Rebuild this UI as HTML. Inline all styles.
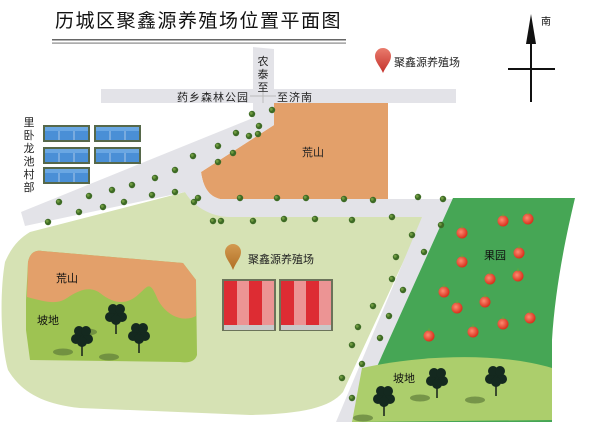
<!DOCTYPE html>
<html><head><meta charset="utf-8"><style>
html,body{margin:0;padding:0;background:#fff;}
svg{display:block;font-family:"Liberation Sans","Noto Sans CJK SC",sans-serif;}
</style></head><body>
<svg width="600" height="422" viewBox="0 0 600 422" xmlns="http://www.w3.org/2000/svg">
<defs>
<radialGradient id="ap" cx="0.4" cy="0.4" r="0.6"><stop offset="0" stop-color="#ff8a70"/><stop offset="1" stop-color="#d8301c"/></radialGradient>
<linearGradient id="pin1" x1="0" y1="0" x2="0" y2="1"><stop offset="0" stop-color="#e97c6d"/><stop offset="1" stop-color="#c4302a"/></linearGradient>
<linearGradient id="pin2" x1="0" y1="0" x2="0" y2="1"><stop offset="0" stop-color="#d39a50"/><stop offset="1" stop-color="#b06e25"/></linearGradient>
<g id="dot"><circle r="3.2" fill="#3e6b25"/><circle r="1.5" cx="-0.8" cy="-0.8" fill="#6f9a40"/></g>
<g id="apple"><circle r="5.5" fill="url(#ap)"/><rect x="-0.5" y="-7.5" width="1" height="3" fill="#6a3"/></g>
<g id="tree"><rect x="-0.8" y="0" width="1.6" height="16" fill="#1e2a1f"/>
<circle cx="0" cy="-4" r="7" fill="#14291f"/><circle cx="-6" cy="-1" r="5" fill="#14291f"/><circle cx="6" cy="-1" r="5" fill="#14291f"/><circle cx="-3" cy="-9" r="5" fill="#14291f"/><circle cx="4" cy="-9" r="5" fill="#14291f"/><circle cx="0" cy="2" r="5" fill="#14291f"/></g>
<g id="shadow"><ellipse rx="10" ry="3.5" fill="#5f7d3a" opacity="0.7"/></g>
<g id="house"><rect x="0" y="0" width="47" height="17" fill="#56684a"/><rect x="2" y="2" width="43" height="13" fill="#4a8fd6"/><line x1="16" y1="2" x2="16" y2="15" stroke="#a9c7e7"/><line x1="31" y1="2" x2="31" y2="15" stroke="#a9c7e7"/><rect x="2" y="2" width="43" height="4" fill="#6aa7e3"/></g>
<g id="bld"><rect x="0" y="0" width="54" height="52" fill="#6b735a"/>
<rect x="2" y="2" width="13" height="46" fill="#dd2c33"/><rect x="15" y="2" width="12" height="46" fill="#ec9494"/>
<rect x="27" y="2" width="13" height="46" fill="#dd2c33"/><rect x="40" y="2" width="12" height="46" fill="#ec9494"/>
<rect x="2" y="46" width="50" height="5" fill="#c9c9c9"/></g>
</defs>

<!-- title -->
<text x="55" y="27" font-size="19" fill="#111" letter-spacing="1.5">历城区聚鑫源养殖场位置平面图</text>
<rect x="52" y="39" width="294" height="1.5" fill="#666"/>
<rect x="52" y="42.5" width="294" height="1.2" fill="#888"/>

<!-- north -->
<line x1="531" y1="28" x2="531" y2="102" stroke="#111" stroke-width="2"/>
<polygon points="531,14 526,44 536,44" fill="#111"/>
<line x1="508" y1="69" x2="555" y2="69" stroke="#111" stroke-width="2"/>
<text x="541" y="25" font-size="10" fill="#111">南</text>

<!-- legend -->
<path d="M383,73 C380,66 375,62 375,56 A8,8 0 0 1 391,56 C391,62 386,66 383,73Z" fill="url(#pin1)"/>
<text x="394" y="66" font-size="11" fill="#222">聚鑫源养殖场</text>

<!-- big light green -->
<path d="M30,232 L185,192 C200,210 215,217 240,217 L424,217 L343,392 C330,408 300,414 250,415 L80,408 C40,404 20,390 8,370 C0,340 0,290 5,262 C12,246 20,238 30,232Z" fill="#d6e2b4"/>
<!-- orange top -->
<path d="M274,103 L388,103 L388,199 L220,199 C208,196 203,186 201,172 L274,125Z" fill="#e3a06a"/>
<!-- roads -->
<path d="M101,89 L456,89 L456,103 L101,103Z" fill="#e3e3e8"/>
<path d="M253,47 L274,49 L274,125 L201,172 C203,186 208,196 220,199 L450,199 L445,217 L230,217 C210,217 192,205 185,192 L25,226 L21,212 L253,118Z" fill="#e3e3e8"/>
<line x1="263" y1="89" x2="263" y2="103" stroke="#bbb"/><line x1="250" y1="96" x2="276" y2="96" stroke="#bbb"/>
<path d="M440,199 L453,199 L352,422 L336,422 L422,217Z" fill="#e3e3e8"/>
<!-- orchard -->
<path d="M453,198 L575,198 C565,240 555,290 552,340 L552,422 L352,422Z" fill="#46a655"/>
<path d="M362,368 C420,355 500,352 552,368 L552,420 L352,422Z" fill="#acce6c"/>

<!-- left inset -->
<path d="M26,300 L28,262 C30,252 36,250 42,251 L183,263 L196,280 L197,355 C195,362 188,363 180,362 L30,360 L26,330Z" fill="#9ec352"/>
<path d="M28,262 C30,252 36,250 42,251 L183,263 L196,280 L196,316 C185,322 168,318 158,300 C150,280 148,286 140,293 C128,305 115,305 100,293 C90,286 80,290 70,296 C58,305 50,303 27,297Z" fill="#e3a06a"/>
<text x="56" y="282" font-size="11" fill="#111">荒山</text>
<text x="37" y="324" font-size="11" fill="#111">坡地</text>
<use href="#shadow" x="87" y="332"/><use href="#shadow" x="63" y="352"/><use href="#shadow" x="109" y="357"/>
<use href="#tree" x="116" y="318"/><use href="#tree" x="82" y="340"/><use href="#tree" x="139" y="337"/>

<!-- village -->
<use href="#house" x="43" y="125"/><use href="#house" x="94" y="125"/>
<use href="#house" x="43" y="147"/><use href="#house" x="94" y="147"/>
<use href="#house" x="43" y="167"/>
<g font-size="11" fill="#222" text-anchor="middle">
<text x="29" y="126">里</text><text x="29" y="139">卧</text><text x="29" y="152">龙</text><text x="29" y="165">池</text><text x="29" y="178">村</text><text x="29" y="191">部</text>
<text x="263" y="65">农</text><text x="263" y="78">泰</text><text x="263" y="91">至</text>
</g>
<text x="177" y="101" font-size="11" fill="#222" letter-spacing="1">药乡森林公园</text>
<text x="277" y="101" font-size="11" fill="#222" letter-spacing="1">至济南</text>
<text x="302" y="156" font-size="11" fill="#222">荒山</text>

<!-- farm -->
<path d="M233,270 C230,262 225,258 225,252 A8,8 0 0 1 241,252 C241,258 236,262 233,270Z" fill="url(#pin2)"/>
<text x="248" y="263" font-size="11" fill="#222">聚鑫源养殖场</text>
<use href="#bld" x="222" y="279"/><use href="#bld" x="279" y="279"/>

<!-- orchard items -->
<text x="484" y="259" font-size="11" fill="#111">果园</text>
<use href="#apple" x="503" y="221"/><use href="#apple" x="528" y="219"/><use href="#apple" x="462" y="233"/><use href="#apple" x="519" y="253"/><use href="#apple" x="462" y="262"/><use href="#apple" x="490" y="279"/><use href="#apple" x="518" y="276"/><use href="#apple" x="444" y="292"/><use href="#apple" x="485" y="302"/><use href="#apple" x="457" y="308"/><use href="#apple" x="530" y="318"/><use href="#apple" x="503" y="324"/><use href="#apple" x="473" y="332"/><use href="#apple" x="429" y="336"/>
<text x="393" y="382" font-size="11" fill="#111">坡地</text>
<use href="#shadow" x="420" y="398"/><use href="#shadow" x="475" y="400"/><use href="#shadow" x="363" y="418"/>
<use href="#tree" x="437" y="382"/><use href="#tree" x="496" y="380"/><use href="#tree" x="384" y="400"/>

<!-- road dots -->
<g>
<use href="#dot" x="252" y="114"/><use href="#dot" x="272" y="110"/>
<use href="#dot" x="236" y="133"/><use href="#dot" x="259" y="126"/><use href="#dot" x="249" y="136"/><use href="#dot" x="258" y="134"/>
<use href="#dot" x="218" y="146"/><use href="#dot" x="233" y="153"/><use href="#dot" x="218" y="162"/>
<use href="#dot" x="193" y="156"/><use href="#dot" x="175" y="170"/><use href="#dot" x="155" y="178"/><use href="#dot" x="132" y="185"/><use href="#dot" x="112" y="190"/><use href="#dot" x="89" y="196"/><use href="#dot" x="59" y="202"/>
<use href="#dot" x="198" y="198"/><use href="#dot" x="175" y="192"/><use href="#dot" x="152" y="195"/><use href="#dot" x="124" y="202"/><use href="#dot" x="103" y="207"/><use href="#dot" x="79" y="212"/><use href="#dot" x="48" y="222"/>
<use href="#dot" x="213" y="221"/><use href="#dot" x="194" y="202"/>
<use href="#dot" x="240" y="198"/><use href="#dot" x="277" y="198"/><use href="#dot" x="306" y="198"/><use href="#dot" x="344" y="199"/><use href="#dot" x="373" y="200"/><use href="#dot" x="418" y="197"/><use href="#dot" x="443" y="199"/>
<use href="#dot" x="221" y="221"/><use href="#dot" x="253" y="221"/><use href="#dot" x="284" y="219"/><use href="#dot" x="315" y="219"/><use href="#dot" x="352" y="220"/><use href="#dot" x="392" y="217"/>
<use href="#dot" x="441" y="225"/><use href="#dot" x="412" y="235"/><use href="#dot" x="424" y="252"/><use href="#dot" x="396" y="257"/><use href="#dot" x="392" y="279"/><use href="#dot" x="403" y="290"/><use href="#dot" x="373" y="306"/><use href="#dot" x="389" y="316"/><use href="#dot" x="358" y="327"/><use href="#dot" x="380" y="338"/><use href="#dot" x="352" y="345"/><use href="#dot" x="362" y="364"/><use href="#dot" x="342" y="378"/><use href="#dot" x="352" y="398"/>
</g>
</svg>
</body></html>
